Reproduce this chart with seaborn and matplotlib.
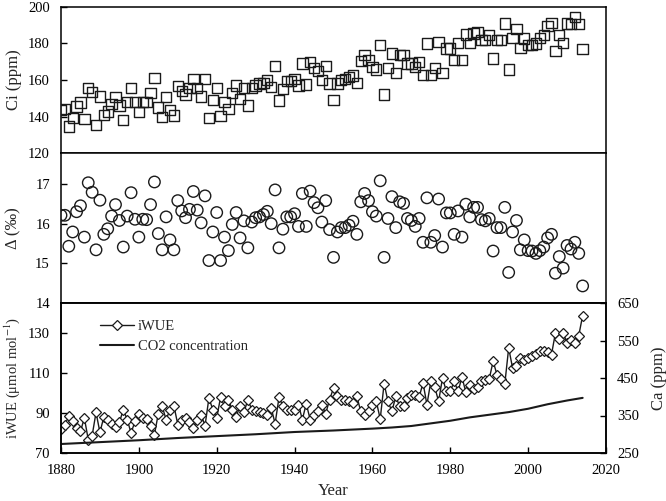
import matplotlib
matplotlib.use('Agg')
import matplotlib.pyplot as plt
import seaborn as sns
import numpy as np

sns.set_style('ticks')
plt.rcParams['font.family'] = ['Liberation Serif', 'DejaVu Serif']
plt.rcParams['mathtext.fontset'] = 'stix'

years = np.arange(1880, 2015)

ci = [143.6, 144, 134.5, 139, 145.5, 147.6, 138.5, 155.5, 153.5, 135.5,
      151, 141, 142.7, 147, 150.5, 146, 138, 148, 155.5, 148,
      142.4, 148, 148, 153, 161, 145, 139.6, 150.5, 143.6, 140.5,
      156.7, 154, 152, 155.5, 160.7, 155.5, 151, 160.4, 139.3, 149,
      155.8, 140.4, 148, 144, 153, 157, 149.5, 155.5, 146, 155.5,
      157, 158, 158.5, 160, 156, 167.8, 148.7, 155, 159.6, 159.6,
      160.7, 157, 169, 157.6, 170, 166.4, 165, 160, 167.8, 158,
      149, 158, 160, 160.5, 161.5, 162.5, 158.5, 170.5, 173.6, 171,
      167, 165.8, 179, 152, 166.4, 174.5, 164, 173.6, 173.6, 169,
      169, 167.3, 170, 162.7, 180, 162.7, 166.4, 181, 164, 177.3,
      177.3, 171, 180.4, 171, 185, 180.4, 185.5, 186.4, 182, 182,
      184.5, 171.8, 182, 182, 191, 165.8, 183, 188, 177.6, 182.7,
      179, 179, 180, 183, 184.5, 189.5, 191.3, 176, 184.5, 180.4,
      191, 190.5, 194.5, 190.5, 176.8]

delta = [16.21, 16.21, 15.43, 15.79, 16.30, 16.45, 15.66, 17.03, 16.79, 15.34,
         16.59, 15.73, 15.87, 16.19, 16.48, 16.08, 15.41, 16.19, 16.78, 16.11,
         15.66, 16.11, 16.10, 16.48, 17.05, 15.75, 15.34, 16.17, 15.59, 15.34,
         16.58, 16.32, 16.15, 16.36, 16.81, 16.34, 16.02, 16.70, 15.07, 15.79,
         16.28, 15.07, 15.66, 15.32, 15.98, 16.28, 15.64, 16.07, 15.39, 16.04,
         16.15, 16.17, 16.23, 16.31, 16.00, 16.85, 15.39, 15.86, 16.17, 16.17,
         16.25, 15.93, 16.76, 15.93, 16.82, 16.53, 16.40, 16.04, 16.58, 15.85,
         15.15, 15.79, 15.90, 15.90, 15.96, 16.06, 15.73, 16.55, 16.76, 16.58,
         16.30, 16.19, 17.08, 15.15, 16.13, 16.68, 15.90, 16.55, 16.51, 16.13,
         16.08, 15.93, 16.13, 15.53, 16.65, 15.53, 15.70, 16.62, 15.41, 16.27,
         16.27, 15.73, 16.32, 15.66, 16.49, 16.17, 16.41, 16.41, 16.10, 16.07,
         16.13, 15.31, 15.90, 15.90, 16.41, 14.77, 15.79, 16.08, 15.34, 15.59,
         15.32, 15.31, 15.25, 15.32, 15.41, 15.64, 15.73, 14.75, 15.17, 14.88,
         15.45, 15.36, 15.53, 15.25, 14.43]

iwue = [82, 84.2, 88.3, 85.8, 82.5, 80.8, 87.5, 76.7, 78.7, 90.3,
        80.3, 88, 86.7, 84.7, 83, 85.3, 91.7, 86.7, 80, 85.8,
        89.7, 87.5, 87, 83.7, 79.2, 89.7, 93.3, 86.7, 91.7, 93.7,
        84.2, 86.7, 87.5, 85.3, 82.5, 86.7, 89.2, 83.7, 97.5, 91.7,
        87.5, 98, 93.3, 96.7, 91.7, 88, 93.7, 90.3, 96.7, 91.7,
        90.8, 90.3, 90, 89.2, 92.5, 84.7, 97.8, 93.7, 91.7, 91.7,
        91.7, 94.2, 86.7, 94.7, 86.7, 89.2, 90.8, 94.2, 89.7, 96.7,
        102.5, 98.3, 96.7, 96.7, 95.8, 95, 98.3, 90.8, 89.2, 90.8,
        94.2, 95.8, 87, 104.7, 95.8, 90.8, 98.3, 93.3, 93.3, 97.5,
        99.2, 99.2, 98, 105, 94.2, 105.8, 103, 95.8, 107.5, 100.8,
        100.8, 105.8, 100.8, 108, 100.3, 104.2, 102, 103, 105.8, 106.3,
        107, 115.8, 109.2, 107, 104.5, 122.5, 112.5, 113.3, 117.5, 116.7,
        117.5, 118.7, 119.7, 120.8, 120.8, 120.3, 119.2, 130, 127, 130,
        125, 126.3, 125, 128.7, 138.7]

ca_years = [1880, 1890, 1900, 1910, 1920, 1930, 1940, 1950, 1960, 1965,
            1970, 1975, 1980, 1985, 1990, 1995, 2000, 2005, 2010, 2014]
ca = [274, 279, 284, 290, 295, 300, 306, 310, 315, 318,
      322, 329, 336, 345, 352, 359, 368, 380, 390, 397]

ink = '#1a1a1a'
fig, ax = plt.subplots(3, 1, figsize=(6.66, 5.01), dpi=100, sharex=True,
                       gridspec_kw={'height_ratios': [146, 150, 150], 'hspace': 0})
fig.subplots_adjust(left=61/666, right=606/666, top=1-7/501, bottom=1-453/501)

sns.scatterplot(x=years, y=ci, ax=ax[0], marker='s', s=55, color=ink, linewidth=1, zorder=3)
ax[0].collections[0].set_facecolor('none')
ax[0].collections[0].set_edgecolor(ink)

sns.scatterplot(x=years, y=delta, ax=ax[1], marker='o', s=68, color=ink, linewidth=1, zorder=3)
ax[1].collections[0].set_facecolor('none')
ax[1].collections[0].set_edgecolor(ink)

sns.lineplot(x=years, y=iwue, ax=ax[2], color=ink, lw=1, marker='D', markersize=5,
             markerfacecolor='white', markeredgecolor=ink, markeredgewidth=0.9, label='iWUE')
axb = ax[2].twinx()
sns.lineplot(x=ca_years, y=ca, ax=axb, color=ink, lw=1.5, label='CO2 concentration')

h1, l1 = ax[2].get_legend_handles_labels()
h2, l2 = axb.get_legend_handles_labels()
if axb.get_legend() is not None:
    axb.get_legend().remove()
ax[2].legend(h1 + h2, l1 + l2, loc='upper left', bbox_to_anchor=(0.072, 0.89),
             frameon=False, fontsize=10.5, handlelength=2.3, handletextpad=0.3,
             labelspacing=0.5, borderaxespad=0, borderpad=0)

ax[0].set_ylim(120, 200)
ax[0].set_yticks([120, 140, 160, 180, 200])
ax[1].set_ylim(14, 17.78)
ax[1].set_yticks([14, 15, 16, 17])
ax[2].set_ylim(70, 145)
ax[2].set_yticks([70, 90, 110, 130])
axb.set_ylim(250, 650)
axb.set_yticks([250, 350, 450, 550, 650])
ax[2].set_xlim(1880, 2020)
ax[2].set_xticks(range(1880, 2021, 20))

for a in list(ax) + [axb]:
    for sp in a.spines.values():
        sp.set_visible(True)
        sp.set_linewidth(1.1)
        sp.set_color('black')
    a.tick_params(direction='in', length=4, width=1, pad=8, labelsize=10.5, colors='black')
ax[0].tick_params(axis='x', length=0)
ax[1].tick_params(axis='x', length=0)

ax[0].set_ylabel('Ci (ppm)', fontsize=12)
ax[1].set_ylabel('Δ (‰)', fontsize=12)
ax[2].set_ylabel('iWUE (μmol mol$^{-1}$)', fontsize=10.5)
axb.set_ylabel('Ca (ppm)', fontsize=12)
ax[2].set_xlabel('Year', fontsize=12)
for a in ax:
    a.yaxis.set_label_coords(-0.072, 0.5)
axb.yaxis.set_label_coords(1.083, 0.5)
ax[2].xaxis.set_label_coords(0.5, -0.2)

fig.savefig('out.png', dpi=100)
